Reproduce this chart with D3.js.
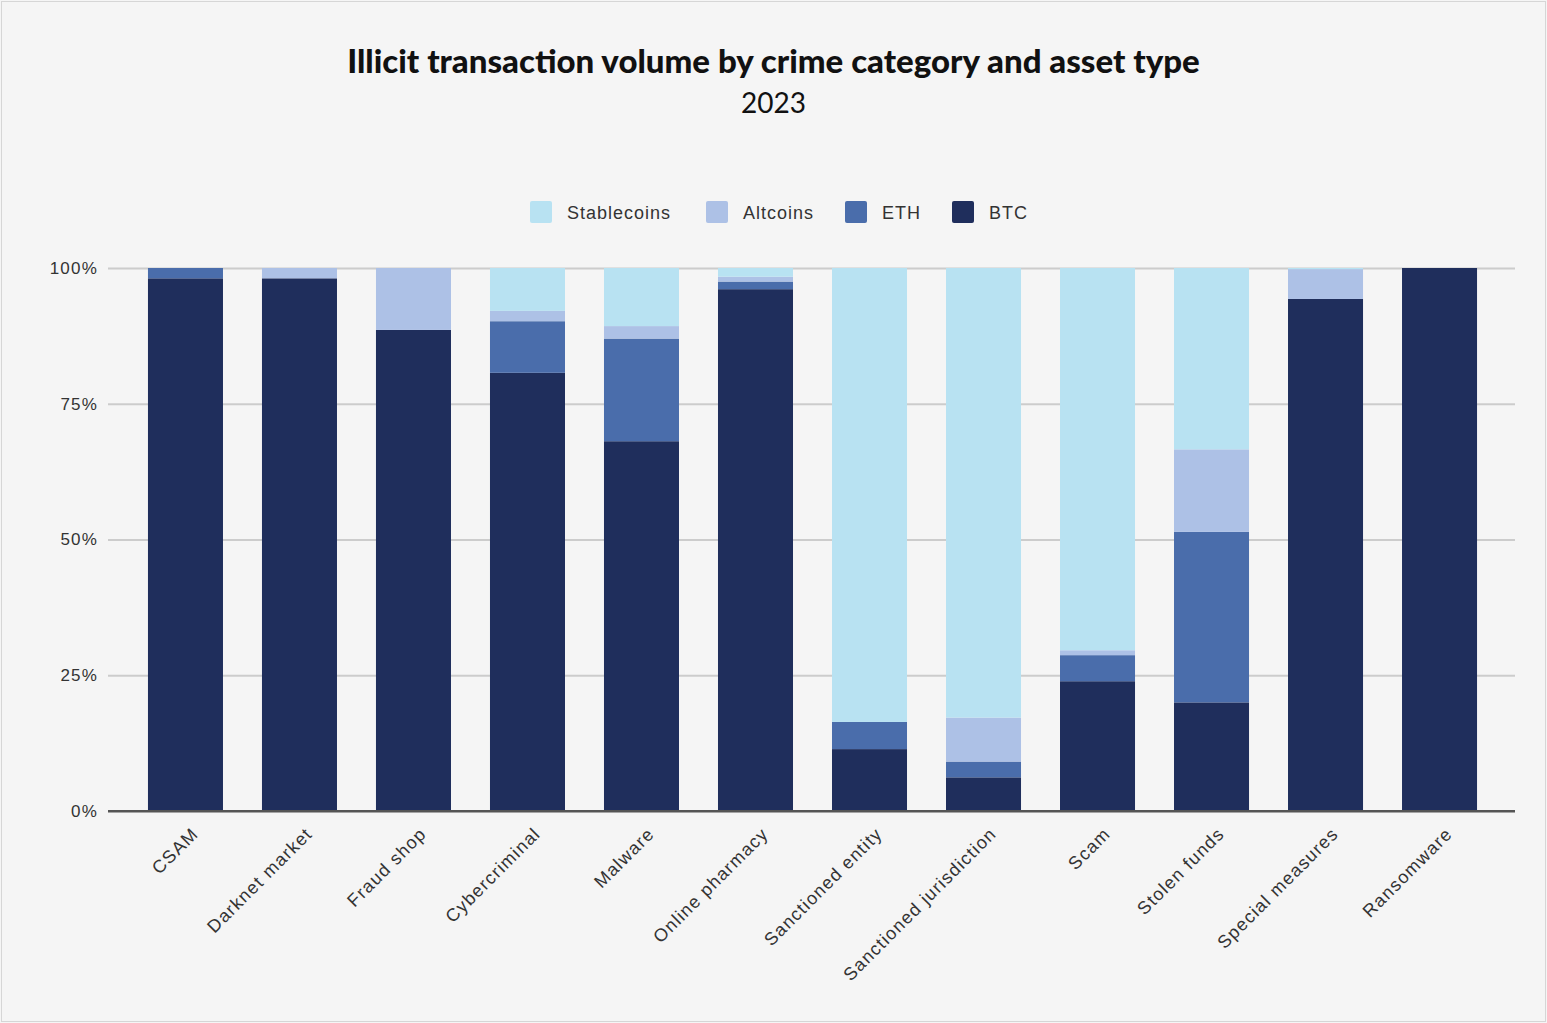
<!DOCTYPE html>
<html>
<head>
<meta charset="utf-8">
<script src="https://cdn.jsdelivr.net/npm/d3@7"></script>
<style>
  html, body { margin: 0; padding: 0; background: #f5f5f5; }
  svg { display: block; }
</style>
</head>
<body>
<div id="chart"></div>
<script>
const categories = ["CSAM", "Darknet market", "Fraud shop", "Cybercriminal", "Malware", "Online pharmacy",
  "Sanctioned entity", "Sanctioned jurisdiction", "Scam", "Stolen funds", "Special measures", "Ransomware"];
const series = ["BTC", "ETH", "Altcoins", "Stablecoins"];
const btc =         [98.1, 98.1, 88.6, 80.7, 68.1, 96.1, 11.4,  6.2, 23.9, 20.0, 94.3, 100];
const eth =         [ 1.9,  0.0,  0.0,  9.5, 18.9,  1.4,  5.0,  2.9,  4.8, 31.4,  0.0,   0];
const altcoins =    [ 0.0,  1.9, 11.4,  1.9,  2.3,  0.9,  0.0,  8.1,  0.9, 15.2,  5.5,   0];
const stablecoins = [ 0.0,  0.0,  0.0,  7.9, 10.7,  1.6, 83.6, 82.8, 70.4, 33.4,  0.2,   0];
const yTicks = [0, 25, 50, 75, 100];
const colors = { BTC: "#1f2e5c", ETH: "#4a6dab", Altcoins: "#adc1e6", Stablecoins: "#b8e2f2" };
const legendOrder = ["Stablecoins", "Altcoins", "ETH", "BTC"];

const width = 1547, height = 1023;
const margin = { top: 268, right: 32, bottom: 212, left: 110 };
const labelFont = "'Liberation Sans', Arial, sans-serif";

const table = categories.map((c, i) => ({
  category: c, BTC: btc[i], ETH: eth[i], Altcoins: altcoins[i], Stablecoins: stablecoins[i]
}));

const svg = d3.select("#chart").append("svg")
  .attr("width", width)
  .attr("height", height);

svg.append("rect")
  .attr("x", 1.5).attr("y", 1.5)
  .attr("width", width - 3).attr("height", height - 3)
  .attr("fill", "#f5f5f5")
  .attr("stroke", "#d6d6d6");

const x = d3.scaleBand()
  .domain(categories)
  .range([margin.left, width - margin.right])
  .paddingInner(0.342)
  .paddingOuter(0.333);

const y = d3.scaleLinear()
  .domain([0, 100])
  .range([height - margin.bottom, margin.top]);

// gridlines + y labels
const yAxis = svg.append("g")
  .attr("transform", `translate(${margin.left - 2},0)`)
  .call(d3.axisLeft(y).tickValues(yTicks).tickFormat(d => d + "%")
    .tickSize(-(width - margin.left - margin.right + 2)).tickPadding(10));
yAxis.select(".domain").remove();
yAxis.selectAll(".tick line")
  .attr("stroke", d => d === 0 ? "#555" : "#cccccc")
  .attr("stroke-width", 2);
yAxis.selectAll(".tick text")
  .attr("fill", "#333")
  .style("font-family", labelFont)
  .style("font-size", "17px")
  .style("letter-spacing", "1.2px");

const stacked = d3.stack().keys(series)(table);

svg.append("g")
  .selectAll("g")
  .data(stacked)
  .join("g")
  .attr("fill", d => colors[d.key])
  .selectAll("rect")
  .data(d => d)
  .join("rect")
  .attr("x", d => x(d.data.category))
  .attr("y", d => y(d[1]))
  .attr("width", x.bandwidth())
  .attr("height", d => y(d[0]) - y(d[1]));

// baseline on top
svg.append("line")
  .attr("x1", margin.left - 2).attr("x2", width - margin.right)
  .attr("y1", y(0)).attr("y2", y(0))
  .attr("stroke", "#555").attr("stroke-width", 2);

// x labels
svg.append("g")
  .selectAll("text")
  .data(categories)
  .join("text")
  .attr("transform", d => `translate(${x(d) + x.bandwidth() / 2 + 14},${y(0) + 24}) rotate(-45)`)
  .attr("text-anchor", "end")
  .attr("fill", "#333")
  .style("font-family", labelFont)
  .style("font-size", "18px")
  .style("letter-spacing", "1.2px")
  .text(d => d);

// title
svg.append("text")
  .attr("x", width / 2).attr("y", 73)
  .attr("text-anchor", "middle")
  .attr("fill", "#111")
  .style("font-family", "Lato, sans-serif")
  .style("font-weight", 900)
  .style("font-size", "33px")
  .text("Illicit transaction volume by crime category and asset type");

svg.append("text")
  .attr("x", width / 2).attr("y", 113)
  .attr("text-anchor", "middle")
  .attr("fill", "#111")
  .style("font-family", "Lato, sans-serif")
  .style("font-size", "28px")
  .text("2023");

// legend
const legendX = [530, 706, 845, 952];
const legend = svg.append("g")
  .selectAll("g")
  .data(legendOrder)
  .join("g")
  .attr("transform", (d, i) => `translate(${legendX[i]},201)`);
legend.append("rect")
  .attr("width", 22).attr("height", 22).attr("rx", 2)
  .attr("fill", d => colors[d]);
legend.append("text")
  .attr("x", 37).attr("y", 18)
  .attr("fill", "#333")
  .style("font-family", labelFont)
  .style("font-size", "18px")
  .style("letter-spacing", "1px")
  .text(d => d);
</script>
</body>
</html>
